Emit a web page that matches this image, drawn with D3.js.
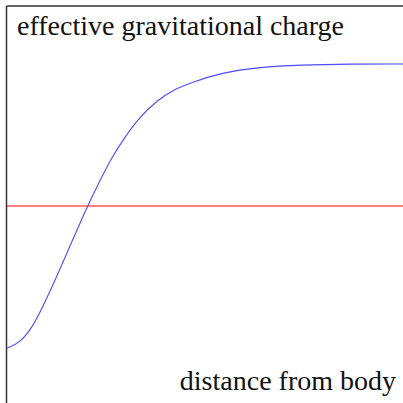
<!DOCTYPE html>
<html lang="en">
<head>
    <meta charset="UTF-8">
    <title>Effective gravitational charge</title>

    <script src="https://d3js.org/d3.v7.min.js"></script>

    <style>
        body {
            margin: 0;
            background: white;
        }
    </style>

    <script>

        // distance from body (arbitrary units) and effective charge
        const distance = [0, 0.13, 0.26, 0.36, 0.49, 0.81, 0.94, 1.04, 1.17, 1.34, 1.52, 1.68, 1.85, 2.15, 2.56, 2.96, 3.46, 4.0];
        const charge = [-1.0, -0.965, -0.85, -0.71, -0.52, 0, 0.18, 0.32, 0.465, 0.627, 0.746, 0.817, 0.866, 0.937, 0.979, 0.993, 1.0, 1.0];
        const zeroLevel = 0;

        const yLabel = "effective gravitational charge";
        const xLabel = "distance from body";

        document.addEventListener("DOMContentLoaded", () => makeGraph());

        function makeGraph() {
            const width = 403;
            const height = 403;

            const margins = {
                top: 6,
                right: 0,
                left: 7,
                bottom: 0
            };

            let svg = d3.select('svg')
                .attr("width", width)
                .attr("height", height);

            let xScale = d3.scaleLinear().domain([0, 4]).range([margins.left, width - margins.right]);
            let yScale = d3.scaleLinear().domain([-1, 1]).range([348, 64]);

            // frame: only top and left edges are visible
            svg.append("line")
                .attr("x1", margins.left - 0.5).attr("x2", width)
                .attr("y1", margins.top).attr("y2", margins.top)
                .attr("stroke", "#333").attr("stroke-width", 1.5);
            svg.append("line")
                .attr("x1", margins.left - 0.5).attr("x2", margins.left - 0.5)
                .attr("y1", margins.top).attr("y2", height)
                .attr("stroke", "#333").attr("stroke-width", 1.5);

            // zero level
            svg.append("line")
                .attr("x1", margins.left).attr("x2", width)
                .attr("y1", yScale(zeroLevel)).attr("y2", yScale(zeroLevel))
                .attr("stroke", "red").attr("stroke-width", 1.2);

            const points = distance.map((d, i) => [d, charge[i]]);
            const line = d3.line()
                .x(p => xScale(p[0]))
                .y(p => yScale(p[1]))
                .curve(d3.curveBasis);

            svg.append("path")
                .datum(points)
                .attr("d", line)
                .attr("fill", "none")
                .attr("stroke", "#4c4cff")
                .attr("stroke-width", 1.1);

            svg.append("text")
                .attr("x", 17).attr("y", 35)
                .style("font-family", "Liberation Serif")
                .style("font-size", "28px")
                .attr("fill", "#111")
                .text(yLabel);

            svg.append("text")
                .attr("x", 396).attr("y", 390)
                .attr("text-anchor", "end")
                .style("font-family", "Liberation Serif")
                .style("font-size", "28px")
                .attr("fill", "#111")
                .text(xLabel);
        }

    </script>

</head>
<body>
    <svg></svg>
</body>
</html>
